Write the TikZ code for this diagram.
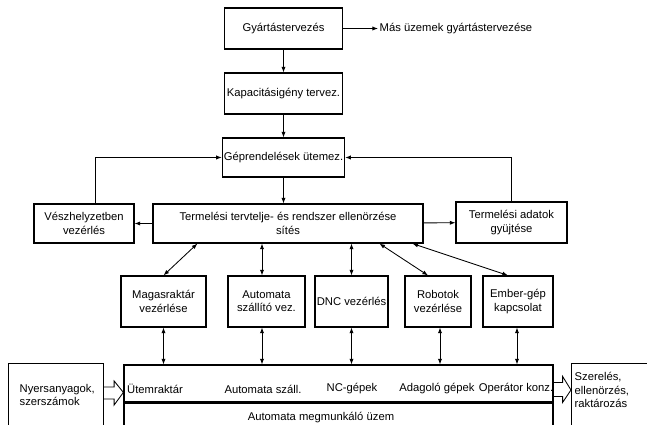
\documentclass[tikz,border=0pt]{standalone}
\usepackage{fontspec}
\setmainfont{Liberation Sans}
\usetikzlibrary{arrows.meta,calc}

\begin{document}
\begin{tikzpicture}[x=0.025cm, y=-0.025cm,
    doboz/.style={draw, line width=0.8pt, align=center, font=\footnotesize, inner sep=1pt},
    felirat/.style={font=\footnotesize, inner sep=1pt},
    nyil/.style={line width=0.6pt, -{Latex[length=4pt, width=3pt]}},
    kettos/.style={line width=0.6pt, {Latex[length=4pt, width=3pt]}-{Latex[length=4pt, width=3pt]}},
    ures/.style={line width=0.6pt}]
  \clip (0,0) rectangle (647,425);

  % felso lanc
  \node[doboz, minimum width=2.95cm, minimum height=1.025cm] (gyart) at (283.5,28.5) {Gyártástervezés};
  \node[felirat, anchor=west] (mas) at (378,28.5) {Más üzemek gyártástervezése};
  \node[doboz, minimum width=2.95cm, minimum height=1.025cm] (kapac) at (283.5,93.5) {Kapacitásigény tervez.};
  \node[doboz, minimum width=3cm, minimum height=0.975cm] (geprend) at (283.5,157.5) {Géprendelések ütemez.};

  % kozepso sor
  \node[doboz, minimum width=6.75cm, minimum height=0.975cm] (termel) at (288,223.5) {Termelési tervtelje- és rendszer ellenörzése\\sítés};
  \node[doboz, minimum width=2.5cm, minimum height=0.975cm] (vesz) at (84,223.5) {Vészhelyzetben\\vezérlés};
  \node[doboz, minimum width=2.775cm, minimum height=1.025cm] (adatok) at (511.5,222.5) {Termelési adatok\\gyüjtése};

  % vezerlesek
  \node[doboz, minimum width=2.125cm, minimum height=1.275cm] (magas) at (163.5,301.5) {Magasraktár\\vezérlése};
  \node[doboz, minimum width=1.925cm, minimum height=1.275cm] (autosz) at (266.5,301.5) {Automata\\szállító vez.};
  \node[doboz, minimum width=1.825cm, minimum height=1.275cm] (dnc) at (351.5,301.5) {DNC vezérlés};
  \node[doboz, minimum width=1.65cm, minimum height=1.275cm] (robot) at (438,301.5) {Robotok\\vezérlése};
  \node[doboz, minimum width=1.75cm, minimum height=1.275cm] (ember) at (518,301.5) {Ember-gép\\kapcsolat};

  % uzem
  \node[doboz, minimum width=10.725cm, minimum height=0.925cm] (uzem) at (338.5,383.5) {};
  \node[doboz, minimum width=10.725cm, minimum height=1.1cm, anchor=north] (uzemnev) at (uzem.south) {};
  \node[felirat] (utem) at (155,389) {Ütemraktár};
  \node[felirat] (aszall) at (263,389) {Automata száll.};
  \node[felirat] (ncgep) at (352,389) {NC-gépek};
  \node[felirat] (adag) at (437,389) {Adagoló gépek};
  \node[felirat] (oper) at (516,389) {Operátor konz.};
  \node[felirat] (nev) at (321,418) {Automata megmunkáló üzem};

  \node[doboz, minimum width=2.375cm, minimum height=2cm, anchor=north west] (nyers) at (8,363) {};
  \node[felirat, align=left, anchor=west] (nyerstxt) at (18,395) {Nyersanyagok,\\szerszámok};
  \node[doboz, minimum width=2.5cm, minimum height=2cm, anchor=north west] (szerel) at (571,363) {};
  \node[felirat, align=left, anchor=north west] (szereltxt) at (573,371) {Szerelés,\\ellenörzés,\\raktározás};

  % nyilak
  \draw[nyil] (gyart) -- (mas);
  \draw[nyil] (gyart) -- (kapac);
  \draw[nyil] (kapac) -- (geprend);
  \draw[nyil] (geprend.south) -- (geprend.south |- termel.north);
  \draw[nyil] ($(vesz.north)+(11,0)$) |- (geprend.west);
  \draw[nyil] (adatok.north) |- (geprend.east);
  \draw[nyil] (termel) -- (vesz);
  \draw[nyil] (termel) -- (adatok);

  \draw[kettos] ($(termel.south west)+(45,0)$) -- (magas.north);
  \draw[kettos] (autosz.north -| 262,0) -- (termel.south -| 262,0);
  \draw[kettos] (dnc.north) -- (dnc.north |- termel.south);
  \draw[kettos] ($(termel.south west)+(227,0)$) -- ($(robot.north)+(-10,0)$);
  \draw[kettos] ($(termel.south west)+(260,0)$) -- ($(ember.north)+(-10,0)$);

  \draw[kettos] (magas.south) -- (magas.south |- uzem.north);
  \draw[kettos] (autosz.south -| 262,0) -- (uzem.north -| 262,0);
  \draw[kettos] (dnc.south) -- (dnc.south |- uzem.north);
  \draw[kettos] ($(robot.south)+(2,0)$) -- ($(robot.south |- uzem.north)+(2,0)$);
  \draw[kettos] ($(ember.south)+(-1,0)$) -- ($(ember.south |- uzem.north)+(-1,0)$);

  % ures nyilak
  \draw[ures] ($(nyers.north east)+(0,24)$) -- ++(10,0) -- ++(0,-6) -- ($(uzem.north west)+(0,28)$)
    -- ($(nyers.north east)+(10,42)$) -- ++(0,-6) -- ++(-10,0);
  \draw[ures] ($(uzem.north east)+(0,18)$) -- ++(9,0) -- ++(0,-6) -- ($(szerel.north west)+(0,27)$)
    -- ($(uzem.north east)+(9,38)$) -- ++(0,-6) -- ++(-9,0);
\end{tikzpicture}
\end{document}
